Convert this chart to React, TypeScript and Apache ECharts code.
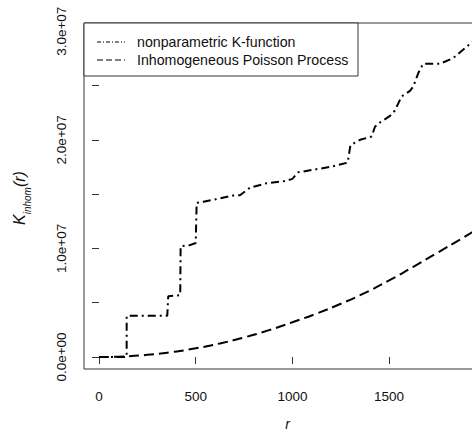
import React, { useEffect, useRef } from "react";
import * as echarts from "echarts";

// nonparametric K-function
const kR = [0, 143, 143, 353, 358, 420, 422, 470, 500, 505, 540, 626, 700, 729, 781, 867, 960, 1000, 1029, 1194, 1286, 1300, 1350, 1410, 1427, 1453, 1505, 1530, 1565, 1608, 1625, 1650, 1676, 1763, 1830, 1910, 1950];
const kV = [0, 0, 3.8e6, 3.8e6, 5.6e6, 5.7e6, 1.02e7, 1.03e7, 1.05e7, 1.42e7, 1.43e7, 1.46e7, 1.49e7, 1.49e7, 1.56e7, 1.6e7, 1.62e7, 1.64e7, 1.7e7, 1.75e7, 1.79e7, 1.95e7, 2.0e7, 2.03e7, 2.12e7, 2.16e7, 2.22e7, 2.27e7, 2.4e7, 2.45e7, 2.49e7, 2.61e7, 2.7e7, 2.7e7, 2.75e7, 2.87e7, 2.93e7];

// Inhomogeneous Poisson Process
const pR = [0, 125, 250, 375, 500, 625, 750, 875, 1000, 1125, 1250, 1375, 1500, 1625, 1750, 1875, 1950];
const pV = [0, 0.05e6, 0.2e6, 0.45e6, 0.8e6, 1.25e6, 1.8e6, 2.45e6, 3.2e6, 4.0e6, 4.9e6, 5.9e6, 7.05e6, 8.3e6, 9.6e6, 10.9e6, 11.7e6];

const xTicks = [0, 500, 1000, 1500];
const yTicks = [0, 5e6, 1e7, 1.5e7, 2e7, 2.5e7, 3e7];
const yLabels = [0, 1e7, 2e7, 3e7];
const legendNames = ["nonparametric K-function", "Inhomogeneous Poisson Process"];

const FONT = "Liberation Sans, Arial, sans-serif";
const CHART_W = 500;

export default function App() {
  const ref = useRef<HTMLDivElement>(null);
  useEffect(() => {
    if (!ref.current) return;
    const chart = echarts.init(ref.current, undefined, { renderer: "svg" });
    chart.setOption({
      animation: false,
      backgroundColor: "#fff",
      grid: {
        left: 84,
        top: 23,
        bottom: 73,
        right: CHART_W - 491,
        show: true,
        borderColor: "#333",
        borderWidth: 1,
        backgroundColor: "transparent",
      },
      xAxis: {
        type: "value",
        min: -77.6,
        max: 2027,
        splitLine: { show: false },
        axisLine: { show: false },
        axisTick: { show: true, customValues: xTicks, length: 7, lineStyle: { color: "#333" } },
        axisLabel: {
          customValues: xTicks,
          margin: 20,
          fontSize: 13.5,
          fontFamily: FONT,
          color: "#111",
          formatter: (v: number) => String(v),
        },
        name: "r",
        nameLocation: "middle",
        nameGap: 48,
        nameTextStyle: { fontStyle: "italic", fontSize: 14, fontFamily: FONT, color: "#111" },
      },
      yAxis: {
        type: "value",
        min: -1.105e6,
        max: 3.0755e7,
        splitLine: { show: false },
        axisLine: { show: false },
        axisTick: { show: true, customValues: yTicks, length: 7, lineStyle: { color: "#333" } },
        axisLabel: {
          customValues: yLabels,
          rotate: 90,
          margin: 16,
          fontSize: 13.5,
          fontFamily: FONT,
          color: "#111",
          formatter: (v: number) => {
            if (v === 0) return "0.0e+00";
            const e = Math.floor(Math.log10(v));
            const m = v / Math.pow(10, e);
            return m.toFixed(1) + "e+" + String(e).padStart(2, "0");
          },
        },
      },
      graphic: [
        {
          type: "rect",
          shape: { x: 84, y: 23, width: 274, height: 53 },
          style: { fill: "#fff", stroke: "#333", lineWidth: 1 },
          z: 10,
        },
        {
          type: "line",
          shape: { x1: 97, y1: 42, x2: 125, y2: 42 },
          style: { stroke: "#000", lineWidth: 1, lineDash: [4, 2, 1, 2] },
          z: 11,
        },
        {
          type: "line",
          shape: { x1: 97, y1: 60, x2: 125, y2: 60 },
          style: { stroke: "#000", lineWidth: 1, lineDash: [6, 3] },
          z: 11,
        },
        {
          type: "text",
          x: 137,
          y: 42,
          style: { text: legendNames[0], fontSize: 14.2, fontFamily: FONT, fill: "#111", verticalAlign: "middle" },
          z: 11,
        },
        {
          type: "text",
          x: 137,
          y: 60,
          style: { text: legendNames[1], fontSize: 14.2, fontFamily: FONT, fill: "#111", verticalAlign: "middle" },
          z: 11,
        },
        {
          type: "text",
          x: 22,
          y: 198,
          rotation: Math.PI / 2,
          style: {
            text: "{k|K}{s|inhom}{p|(r)}",
            align: "center",
            verticalAlign: "middle",
            fontFamily: FONT,
            fill: "#111",
            rich: {
              k: { fontSize: 16, fontStyle: "italic", fontFamily: FONT, lineHeight: 21, verticalAlign: "top" },
              s: { fontSize: 10, fontStyle: "italic", fontFamily: FONT, lineHeight: 10, verticalAlign: "bottom" },
              p: { fontSize: 16, fontStyle: "italic", fontFamily: FONT, lineHeight: 21, verticalAlign: "top" },
            },
          },
          z: 11,
        },
      ],
      series: [
        {
          name: legendNames[0],
          type: "line",
          showSymbol: false,
          data: kR.map((r, i) => [r, kV[i]]),
          lineStyle: { color: "#000", width: 2, type: [8, 4, 2, 4] },
        },
        {
          name: legendNames[1],
          type: "line",
          showSymbol: false,
          smooth: true,
          data: pR.map((r, i) => [r, pV[i]]),
          lineStyle: { color: "#000", width: 2, type: [10, 5] },
        },
      ],
    });
    return () => chart.dispose();
  }, []);
  return (
    <div style={{ position: "fixed", left: 0, top: 0, width: 472, height: 442, overflow: "hidden", background: "#fff" }}>
      <div ref={ref} style={{ width: CHART_W, height: 442 }} />
    </div>
  );
}
